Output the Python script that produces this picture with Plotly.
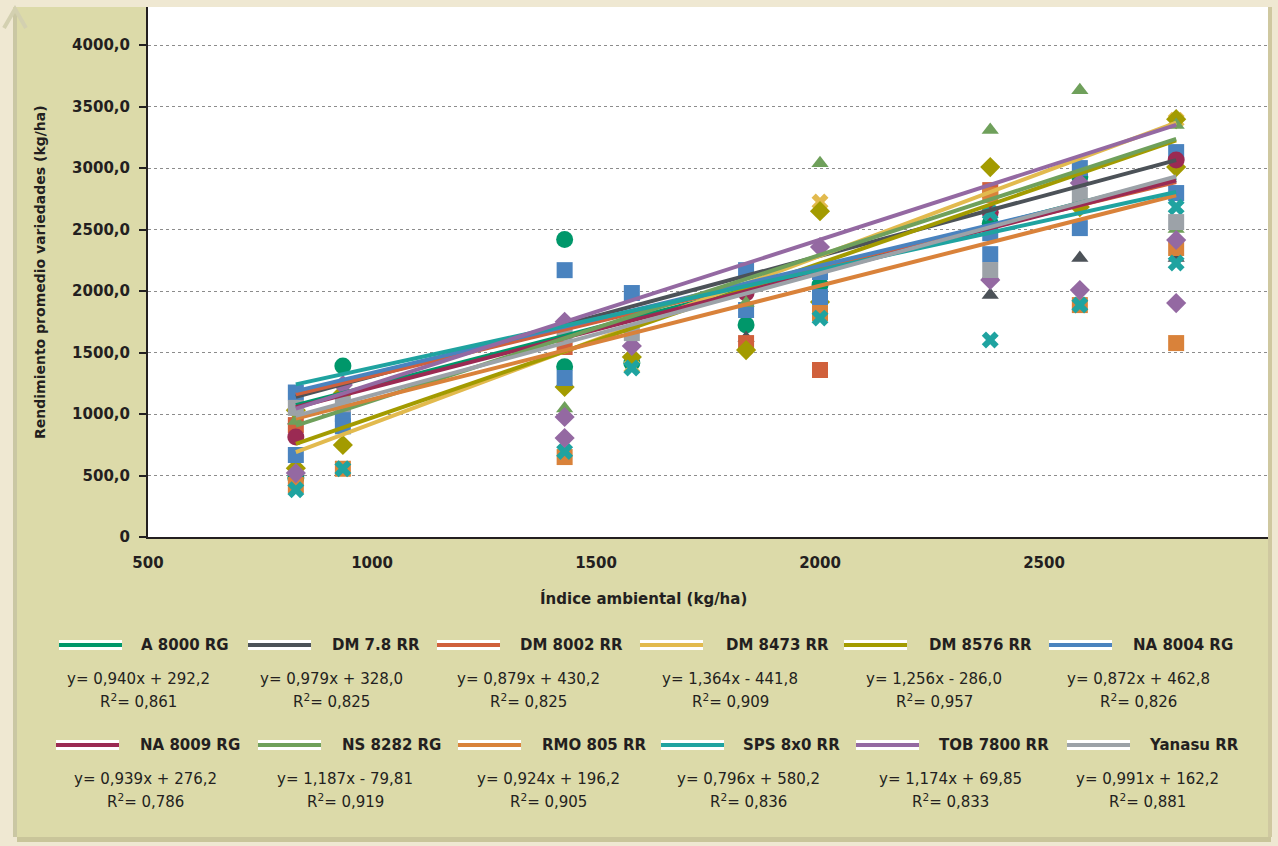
import plotly.graph_objects as go

# Environmental index of each trial location (kg/ha)
ENV_INDEX = [830, 935, 1430, 1580, 1835, 2000, 2380, 2580, 2795]

VARIETIES = ["A 8000 RG", "DM 7.8 RR", "DM 8002 RR", "DM 8473 RR", "DM 8576 RR", "NA 8004 RG",
             "NA 8009 RG", "NS 8282 RG", "RMO 805 RR", "SPS 8x0 RR", "TOB 7800 RR", "Yanasu RR"]

# Mean yield of each variety per environment (kg/ha); several trials may share an index
Y_A8000 = [[480], [1390], [2420, 1385], [1415], [1725], [2050], [2550], [2930], []]
Y_DM78 = [[950], [], [], [], [1618], [], [1967, 2130], [2268], [2268]]
Y_DM8002 = [[910], [], [1545], [], [1577], [1358], [2821], [], []]
Y_DM8473 = [[], [], [], [1385], [], [2724], [], [], [3390]]
Y_DM8576 = [[1030, 560], [1170, 748], [1220], [1463], [1520], [2650, 1911], [3008], [2683], [3398, 3008]]
Y_NA8004 = [[1175, 667], [1000, 900], [2170, 1293], [1984], [2170, 1846], [2155, 1951], [2470, 2300],
            [3000, 2512], [3130, 2797]]
Y_NA8009 = [[813], [], [], [], [1985], [], [2640], [], [3065]]
Y_NS8282 = [[943], [], [1045], [], [1902], [3040], [3309], [3634], [3350, 2504]]
Y_RMO805 = [[423], [555], [650], [], [], [1821], [2780], [1886], [2350, 1577]]
Y_SPS8X0 = [[385], [555], [695], [1374], [], [1780], [2634, 1602], [1886], [2683, 2228]]
Y_TOB7800 = [[520], [1236], [1750, 976, 805], [1553], [], [2358], [2090], [2878, 2008], [2415, 1902]]
Y_YANASU = [[1050], [1080], [1660], [1658], [], [], [2171], [2780], [2561]]

# Linear fits y = a*x + b and their R²
SLOPES = [0.940, 0.979, 0.879, 1.364, 1.256, 0.872, 0.939, 1.187, 0.924, 0.796, 1.174, 0.991]
INTERCEPTS = [292.2, 328.0, 430.2, -441.8, -286.0, 462.8, 276.2, -79.81, 196.2, 580.2, 69.85, 162.2]
R2 = [0.861, 0.825, 0.825, 0.909, 0.957, 0.826, 0.786, 0.919, 0.905, 0.836, 0.833, 0.881]

Y_TICKS = [0, 500, 1000, 1500, 2000, 2500, 3000, 3500, 4000]
Y_TICK_TEXT = ["0", "500,0", "1000,0", "1500,0", "2000,0", "2500,0", "3000,0", "3500,0", "4000,0"]
X_TICKS = [500, 1000, 1500, 2000, 2500, 3000]

YIELDS = [Y_A8000, Y_DM78, Y_DM8002, Y_DM8473, Y_DM8576, Y_NA8004,
          Y_NA8009, Y_NS8282, Y_RMO805, Y_SPS8X0, Y_TOB7800, Y_YANASU]

COLORS = ["#00976a", "#4c5258", "#d0603c", "#e2ba4e", "#a39b00", "#4a83bf",
          "#9b2a53", "#6fa05b", "#d9823a", "#1fa3a0", "#9469a2", "#9ca2a8"]
SYMBOLS = ["circle", "triangle-up", "square", "x", "diamond", "square",
           "circle", "triangle-up", "square", "x", "diamond", "square"]
SIZES = {"circle": 17, "triangle-up": 15, "square": 16, "x": 15, "diamond": 15.5}

FONT = "DejaVu Sans"
INK = "#231f20"
W, H = 1278, 846
L, R, T, B = 148, 10, 7, 309
PW, PH = W - L - R, H - T - B


def px(xp):
    return (xp - L) / PW


def py(yp):
    return (H - B - yp) / PH


def fmt(v, nd):
    return f"{v:.{nd}f}".replace(".", ",")


fig = go.Figure()

# scatter markers
for name, obs, col, sym in zip(VARIETIES, YIELDS, COLORS, SYMBOLS):
    xs, ys = [], []
    for xv, vals in zip(ENV_INDEX, obs):
        for v in vals:
            xs.append(xv)
            ys.append(v)
    fig.add_trace(go.Scatter(
        x=xs, y=ys, mode="markers", name=name, showlegend=False, cliponaxis=False,
        marker=dict(symbol=sym, size=SIZES[sym], color=col, line=dict(width=0)),
    ))

# fitted trend lines
for name, obs, col, a, b in zip(VARIETIES, YIELDS, COLORS, SLOPES, INTERCEPTS):
    x0, x1 = min(ENV_INDEX), max(ENV_INDEX)
    fig.add_trace(go.Scatter(
        x=[x0, x1], y=[a * x0 + b, a * x1 + b], mode="lines", showlegend=False,
        line=dict(color=col, width=4), hoverinfo="skip",
    ))

shapes = []
# page panel
shapes.append(dict(type="rect", xref="paper", yref="paper", layer="below",
                   x0=px(13), x1=px(1271), y0=py(837), y1=py(7),
                   fillcolor="#dcdaa9", line=dict(width=0)))
shapes.append(dict(type="rect", xref="paper", yref="paper", layer="below",
                   x0=px(17), x1=px(1271), y0=py(842), y1=py(837),
                   fillcolor="#c9c59a", line=dict(width=0)))
shapes.append(dict(type="rect", xref="paper", yref="paper", layer="below",
                   x0=px(1268), x1=px(1272), y0=py(837), y1=py(7),
                   fillcolor="#cfc8a0", line=dict(width=0)))
shapes.append(dict(type="line", xref="paper", yref="paper", layer="below",
                   x0=px(15), x1=px(15), y0=py(837), y1=py(9),
                   line=dict(color="#cac7a3", width=4)))
shapes.append(dict(type="path", xref="paper", yref="paper", layer="below",
                   path=f"M {px(4)},{py(28)} L {px(15)},{py(9)} L {px(26)},{py(28)}",
                   line=dict(color="#d3d0b0", width=4)))
# plot area
shapes.append(dict(type="rect", xref="paper", yref="paper", layer="below",
                   x0=0, x1=1, y0=0, y1=1, fillcolor="white", line=dict(width=0)))

annotations = []

# legend blocks: sample line, name, equation, R²
ROW_Y = [645, 745]
SAMPLE_X = [[59, 248, 437, 640, 844, 1049], [56, 258, 458, 661, 856, 1067]]
LABEL_X = [[139, 330, 518, 724, 927, 1131], [138, 340, 540, 741, 937, 1147]]
EQ_X = [[138, 331, 528, 730, 934, 1138], [145, 345, 548, 748, 950, 1147]]
for i, (name, col, a, b, r2) in enumerate(zip(VARIETIES, COLORS, SLOPES, INTERCEPTS, R2)):
    row, k = divmod(i, 6)
    yl = ROW_Y[row]
    sx = SAMPLE_X[row][k]
    shapes.append(dict(type="line", xref="paper", yref="paper", x0=px(sx), x1=px(sx + 63),
                       y0=py(yl), y1=py(yl), line=dict(color="white", width=10)))
    shapes.append(dict(type="line", xref="paper", yref="paper", x0=px(sx), x1=px(sx + 63),
                       y0=py(yl), y1=py(yl), line=dict(color=col, width=4)))
    annotations.append(dict(xref="paper", yref="paper", x=px(LABEL_X[row][k]), y=py(yl),
                            xanchor="left", yanchor="middle", showarrow=False, text=f"<b>{name}</b>",
                            font=dict(family=FONT, size=15, color=INK)))
    sign = "+" if b >= 0 else "-"
    bd = 2 if abs(b) < 100 else 1
    eq = f"y= {fmt(a, 3)}x {sign} {fmt(abs(b), bd)}"
    annotations.append(dict(xref="paper", yref="paper", x=px(EQ_X[row][k]), y=py(yl + 34),
                            xanchor="center", yanchor="middle", showarrow=False, text=eq,
                            font=dict(family=FONT, size=15, color=INK)))
    annotations.append(dict(xref="paper", yref="paper", x=px(EQ_X[row][k]), y=py(yl + 56),
                            xanchor="center", yanchor="middle", showarrow=False,
                            text=f"R<sup>2</sup>= {fmt(r2, 3)}",
                            font=dict(family=FONT, size=15, color=INK)))

# axis titles
annotations.append(dict(xref="paper", yref="paper", x=px(643), y=py(598), showarrow=False,
                        xanchor="center", yanchor="middle",
                        text="<b>Índice ambiental (kg/ha)</b>",
                        font=dict(family=FONT, size=15, color=INK)))
annotations.append(dict(xref="paper", yref="paper", x=px(40), y=py(272), showarrow=False,
                        xanchor="center", yanchor="middle", textangle=-90,
                        text="<b>Rendimiento promedio variedades (kg/ha)</b>",
                        font=dict(family=FONT, size=14, color=INK)))

fig.update_layout(
    width=W, height=H,
    margin=dict(l=L, r=R, t=T, b=B, pad=0),
    paper_bgcolor="#efe8d2",
    plot_bgcolor="rgba(0,0,0,0)",
    shapes=shapes,
    annotations=annotations,
    showlegend=False,
    xaxis=dict(
        range=[500, 3000], tickvals=X_TICKS, ticktext=[f"<b>{v}</b>" for v in X_TICKS],
        showgrid=False, zeroline=False, showline=True, linecolor=INK, linewidth=2,
        ticks="", ticklabelstandoff=11,
        tickfont=dict(family=FONT, size=15, color=INK),
    ),
    yaxis=dict(
        range=[0, 4310], tickvals=Y_TICKS, ticktext=[f"<b>{t}</b>" for t in Y_TICK_TEXT],
        showgrid=True, gridcolor="#8c8c8c", griddash="dot", gridwidth=1,
        zeroline=False, showline=True, linecolor=INK, linewidth=2,
        ticks="outside", ticklen=7, tickwidth=2, tickcolor=INK, ticklabelstandoff=6,
        tickfont=dict(family=FONT, size=15, color=INK),
    ),
)

fig.write_html("out.html")
